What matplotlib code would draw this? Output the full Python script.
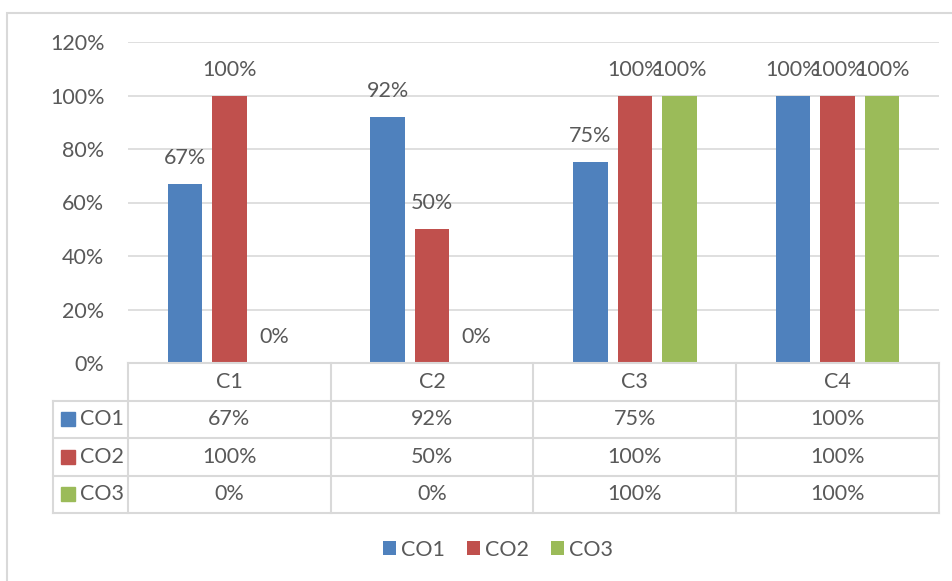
import matplotlib
matplotlib.use("Agg")
import matplotlib.pyplot as plt
from matplotlib.patches import Rectangle, Patch
from matplotlib.lines import Line2D

categories = ["C1", "C2", "C3", "C4"]
series_names = ["CO1", "CO2", "CO3"]
co1 = [0.67, 0.92, 0.75, 1.00]
co2 = [1.00, 0.50, 1.00, 1.00]
co3 = [0.00, 0.00, 1.00, 1.00]
yticks = [0.0, 0.2, 0.4, 0.6, 0.8, 1.0, 1.2]

series = [co1, co2, co3]
colors = ["#4f81bd", "#c0504d", "#9bbb59"]
text_color = "#595959"
grid_color = "#d9d9d9"
font = "Lato"
fs = 15.5

W, H = 953, 581
fig = plt.figure(figsize=(W / 100, H / 100), dpi=100)
fig.patch.set_facecolor("white")


def fx(px):
    return px / W


def fy(py):
    return 1 - py / H


# outer chart border (runs off the right and bottom edges)
fig.add_artist(Rectangle((fx(7), fy(600)), fx(1000) - fx(7), fy(13) - fy(600),
                         transform=fig.transFigure, fill=False,
                         edgecolor=grid_color, linewidth=1.5))

# plot area
L, R, T, B = 128, 939, 42, 363
ax = fig.add_axes([fx(L), fy(B), fx(R) - fx(L), fy(T) - fy(B)])
ax.set_xlim(-0.5, len(categories) - 0.5)
ax.set_ylim(0, 1.2)
for s in ax.spines.values():
    s.set_visible(False)
ax.set_yticks(yticks)
ax.set_yticklabels([f"{int(round(v * 100))}%" for v in yticks],
                   fontsize=fs, color=text_color, family=font)
ax.tick_params(axis="y", length=0, pad=17)
ax.set_xticks([])
ax.yaxis.grid(True, color=grid_color, linewidth=1.2)
ax.set_axisbelow(True)

width = 0.17
step = 0.22
for j, (vals, c) in enumerate(zip(series, colors)):
    xs = [i + (j - 1) * step for i in range(len(categories))]
    ax.bar(xs, vals, width=width, color=c, zorder=3)
    for x, v in zip(xs, vals):
        ax.annotate(f"{int(round(v * 100))}%", (x, v), xytext=(0, 26),
                    textcoords="offset pixels", ha="center", va="center",
                    fontsize=fs, color=text_color, family=font, zorder=4)

# data table below the plot area, sharing the category x scale
TL, TB = 53, 513
cat_px = (R - L) / len(categories)
x_left = -0.5 - (L - TL) / cat_px
tax = fig.add_axes([fx(TL), fy(TB), fx(R) - fx(TL), fy(B) - fy(TB)])
tax.set_xlim(x_left, len(categories) - 0.5)
n_rows = len(series) + 1
tax.set_ylim(n_rows, 0)
tax.axis("off")

lw = 1.5
# horizontal rules
tax.add_line(Line2D([-0.5, len(categories) - 0.5], [0, 0], color=grid_color, lw=lw, clip_on=False))
for r in range(1, n_rows + 1):
    tax.add_line(Line2D([x_left, len(categories) - 0.5], [r, r], color=grid_color, lw=lw, clip_on=False))
# vertical rules
tax.add_line(Line2D([x_left, x_left], [1, n_rows], color=grid_color, lw=lw, clip_on=False))
for i in range(len(categories) + 1):
    xb = i - 0.5
    tax.add_line(Line2D([xb, xb], [0, n_rows], color=grid_color, lw=lw, clip_on=False))

for i, cat in enumerate(categories):
    tax.text(i, 0.5, cat, ha="center", va="center", fontsize=fs,
             color=text_color, family=font)
for j, (name, vals, c) in enumerate(zip(series_names, series, colors)):
    r = j + 1.5
    for i, v in enumerate(vals):
        tax.text(i, r, f"{int(round(v * 100))}%", ha="center", va="center",
                 fontsize=fs, color=text_color, family=font)
    # row header: colour key + series name
    sq = 14 / cat_px
    sq_h = 14 / 37.5
    tax.add_patch(Rectangle((x_left + 8 / cat_px, r - sq_h / 2), sq, sq_h,
                            color=c, clip_on=False))
    tax.text(x_left + 27 / cat_px, r, name, ha="left", va="center",
             fontsize=fs, color=text_color, family=font)

# legend
handles = [Patch(facecolor=c, edgecolor="none", label=n)
           for n, c in zip(series_names, colors)]
fig.legend(handles=handles, loc="center", bbox_to_anchor=(fx(498), fy(550)),
           ncol=3, frameon=False, prop={"family": font, "size": fs},
           labelcolor=text_color, handlelength=0.62, handleheight=0.62,
           handletextpad=0.25, columnspacing=1.0)

fig.savefig("out.png", dpi=100, facecolor="white")
